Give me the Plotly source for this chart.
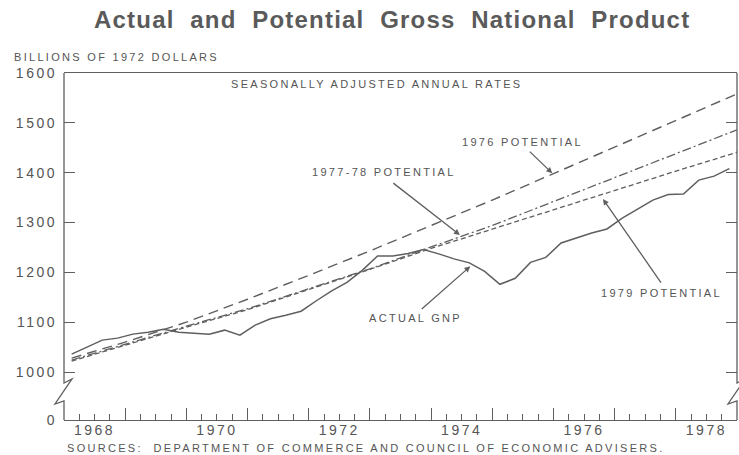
import plotly.graph_objects as go

# ---------------- data ----------------
quarters = [f"{y}Q{q}" for y in range(1968, 1979) for q in range(1, 5)]
actual_gnp = [1036, 1050, 1064, 1068,
              1076, 1080, 1086, 1080,
              1078, 1076, 1084, 1074,
              1094, 1107, 1114, 1122,
              1143, 1163, 1180, 1204,
              1233, 1233, 1238, 1246,
              1237, 1227, 1219, 1202,
              1176, 1188, 1220, 1230,
              1259, 1269, 1279, 1287,
              1309, 1327, 1345, 1356,
              1357, 1385, 1393, 1408]

potential_years = [1968.125, 1969, 1970, 1971, 1972, 1973, 1974, 1975, 1976, 1977, 1978, 1979]
potential_1976 = [1028, 1060, 1100, 1146, 1194, 1243, 1294, 1345, 1398, 1451, 1504, 1558]
potential_1977_78 = [1024, 1056, 1092, 1127, 1167, 1207, 1251, 1294, 1342, 1390, 1438, 1486]
potential_1979 = [1022, 1054, 1090, 1125, 1165, 1206, 1248, 1287, 1325, 1364, 1403, 1441]

y_tick_values = [1000, 1100, 1200, 1300, 1400, 1500, 1600]
year_labels = ["1968", "1970", "1972", "1974", "1976", "1978"]


def quarter_to_year(qs):
    out = []
    for s in qs:
        y, q = s.split("Q")
        out.append(int(y) + (int(q) - 0.5) / 4)
    return out


actual_x = quarter_to_year(quarters)

# --------------- style ---------------
INK = "#5f5f5f"
TXT = "#555555"
FONT = "Liberation Sans, Arial, sans-serif"
Y_BOTTOM = 903.7  # axis bottom, labelled "0" (broken axis)


def sp(text, ls):
    return f'<span style="letter-spacing:{ls}px">{text}</span>'


fig = go.Figure()

fig.add_trace(go.Scatter(x=potential_years, y=potential_1976, mode="lines",
                         line=dict(color=INK, width=1.4, dash="10px,6px"),
                         hoverinfo="skip"))
fig.add_trace(go.Scatter(x=potential_years, y=potential_1977_78, mode="lines",
                         line=dict(color=INK, width=1.3, dash="9px,3px,2px,3px"),
                         hoverinfo="skip"))
fig.add_trace(go.Scatter(x=potential_years, y=potential_1979, mode="lines",
                         line=dict(color=INK, width=1.3, dash="5px,3px"),
                         hoverinfo="skip"))
fig.add_trace(go.Scatter(x=actual_x, y=actual_gnp, mode="lines",
                         line=dict(color=INK, width=1.5), hoverinfo="skip"))

# invisible trace on the label axis
fig.add_trace(go.Scatter(x=[1968.5], y=[1200], xaxis="x2", mode="markers",
                         marker=dict(opacity=0), hoverinfo="skip"))

label_x = [int(t) + 0.5 for t in year_labels]

fig.update_layout(
    width=739, height=455,
    margin=dict(l=64, r=2, t=73, b=35),
    paper_bgcolor="white", plot_bgcolor="white",
    showlegend=False,
    font=dict(family=FONT, color=TXT),
    xaxis=dict(range=[1968, 1979], showgrid=False, zeroline=False,
               showline=True, linecolor=INK, linewidth=1.3, mirror=True,
               tickmode="array", tickvals=list(range(1969, 1979)),
               ticks="inside", ticklen=12, tickwidth=1.2, tickcolor=INK,
               showticklabels=False,
               minor=dict(dtick=0.25, tick0=1968, ticks="inside", ticklen=6,
                          tickwidth=1.1, tickcolor=INK)),
    xaxis2=dict(range=[1968, 1979], overlaying="x", anchor="y", side="bottom",
                showgrid=False, zeroline=False, showline=False,
                tickmode="array", tickvals=label_x,
                ticktext=[sp(t, 2.5) for t in year_labels],
                ticks="", tickfont=dict(size=14, color=TXT, family=FONT)),
    yaxis=dict(range=[Y_BOTTOM, 1600], showgrid=False, zeroline=False,
               showline=False,
               tickmode="array", tickvals=[Y_BOTTOM] + y_tick_values,
               ticktext=[sp(t, 2.5) for t in ["0"] + [str(v) for v in y_tick_values]],
               ticks="inside", ticklen=11, tickwidth=1.2, tickcolor=INK,
               mirror="ticks", ticklabelstandoff=6,
               tickfont=dict(size=14, color=TXT, family=FONT)),
)

# broken vertical axes (left and right)
for x0 in (0, 1):
    fig.add_shape(type="path", xref="paper", yref="paper",
                  path=(f"M {x0},1 L {x0},0.1066 L {x0 + 0.0119},0.1182 "
                        f"L {x0 - 0.0134},0.0461 L {x0},0.0548 L {x0},0"),
                  line=dict(color=INK, width=1.3))

small = dict(size=11, color=TXT, family=FONT)

fig.add_annotation(text="<b>" + sp("Actual\u00a0 and\u00a0 Potential\u00a0 Gross\u00a0 National\u00a0 Product", 1.2) + "</b>",
                   xref="paper", yref="paper", x=0.487, y=1.153,
                   xanchor="center", yanchor="middle", showarrow=False,
                   font=dict(size=24, color="#5a5a5a", family=FONT))
fig.add_annotation(text=sp("BILLIONS OF 1972 DOLLARS", 2.3),
                   xref="paper", yref="paper", x=-0.0773, y=1.046,
                   xanchor="left", yanchor="middle", showarrow=False, font=small)
fig.add_annotation(text=sp("SOURCES:\u00a0 DEPARTMENT OF COMMERCE AND COUNCIL OF ECONOMIC ADVISERS.", 2.3),
                   xref="paper", yref="paper", x=0.0015, y=-0.0807,
                   xanchor="left", yanchor="middle", showarrow=False, font=small)
fig.add_annotation(text=sp("SEASONALLY ADJUSTED ANNUAL RATES", 2.3),
                   x=1973.10, y=1578, xanchor="center", yanchor="middle",
                   showarrow=False, font=small)

labels = [("1976 POTENTIAL", 1975.49, 1461),
          ("1977-78 POTENTIAL", 1973.23, 1401),
          ("1979 POTENTIAL", 1977.77, 1158),
          ("ACTUAL GNP", 1973.74, 1108)]
for txt, lx, ly in labels:
    fig.add_annotation(text=sp(txt, 2.3), x=lx, y=ly, xanchor="center",
                       yanchor="middle", showarrow=False, font=small)

arrows = [(1975.98, 1399, -24, -23),
          (1974.47, 1275, -68, -53),
          (1976.81, 1347, 59, 85),
          (1974.64, 1212, -50, 44)]
for tx, ty, ax, ay in arrows:
    fig.add_annotation(x=tx, y=ty, ax=ax, ay=ay, text="", showarrow=True,
                       arrowhead=2, arrowsize=0.9, arrowwidth=1.3,
                       arrowcolor=INK, standoff=0)

fig.write_html("out.html", config={"displayModeBar": False},
               post_script="document.body.style.margin='0';document.body.style.overflow='hidden';")
